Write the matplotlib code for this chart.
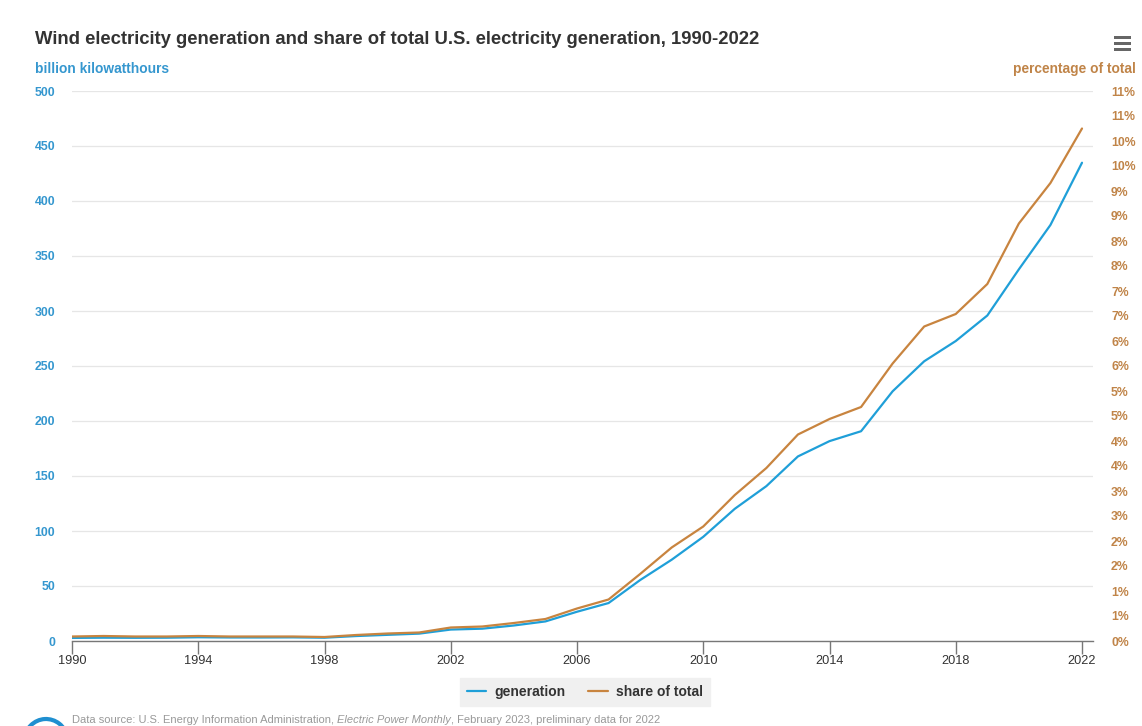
import math
import matplotlib
matplotlib.use("Agg")
import matplotlib.pyplot as plt
from matplotlib.patches import Rectangle, Arc
from matplotlib.ticker import FixedLocator, FuncFormatter

# ---- data ----
years = list(range(1990, 2023))
generation = [2.8, 3.0, 2.9, 3.0, 3.4, 3.2, 3.2, 3.3, 3.0, 4.5, 5.6, 6.7, 10.4, 11.2,
              14.1, 17.8, 26.6, 34.5, 55.4, 73.9, 94.7, 120.2, 140.8, 167.8, 181.7,
              190.7, 227.0, 254.3, 272.7, 295.9, 337.9, 378.2, 434.8]
share = [0.09, 0.10, 0.09, 0.09, 0.10, 0.09, 0.09, 0.09, 0.08, 0.12, 0.15, 0.17, 0.27,
         0.29, 0.36, 0.44, 0.65, 0.83, 1.34, 1.87, 2.29, 2.92, 3.46, 4.13, 4.44,
         4.68, 5.55, 6.29, 6.54, 7.14, 8.35, 9.16, 10.25]
x_ticks = list(range(1990, 2023, 4))
left_ticks = list(range(0, 501, 50))
right_ticks = [i * 0.5 for i in range(0, 23)]

title = "Wind electricity generation and share of total U.S. electricity generation, 1990-2022"
left_label = "billion kilowatthours"
right_label = "percentage of total"
series_names = ["generation", "share of total"]
source_parts = ["Data source: U.S. Energy Information Administration, ",
                "Electric Power Monthly",
                ", February 2023, preliminary data for 2022"]

# ---- style ----
W, H = 1142, 726
BLUE = "#1f9fd8"
ORANGE = "#c8843f"
BLUE_TXT = "#3597cf"
ORANGE_TXT = "#c08448"
FONT = "Liberation Sans"
plt.rcParams["font.family"] = [FONT, "DejaVu Sans"]

fig = plt.figure(figsize=(W / 100, H / 100), dpi=100)
fig.patch.set_facecolor("white")

def fx(px):
    return px / W

def fy(py):
    return 1 - py / H

L, R, T, B = 72, 1093, 91, 641
ax = fig.add_axes([fx(L), fy(B), fx(R - L), (B - T) / H])
ax2 = ax.twinx()

ax.plot(years, generation, color=BLUE, lw=1.6, solid_capstyle="round",
        solid_joinstyle="round", label=series_names[0], zorder=3)
ax2.plot(years, share, color=ORANGE, lw=1.6, solid_capstyle="round",
         solid_joinstyle="round", label=series_names[1], zorder=3)

ax.set_xlim(1990, 1990 + (R - L) / ((1082 - 72) / 32))
ax.set_ylim(0, 500)
ax2.set_ylim(0, 11)

ax.set_xticks(x_ticks)
ax.set_xticklabels([str(y) for y in x_ticks])
ax.yaxis.set_major_locator(FixedLocator(left_ticks))
ax2.yaxis.set_major_locator(FixedLocator(right_ticks))
ax2.yaxis.set_major_formatter(FuncFormatter(lambda v, p: f"{math.floor(v + 0.5)}%"))

ax.grid(axis="y", color="#e6e6e6", lw=0.9)
ax.grid(axis="x", visible=False)
ax.set_axisbelow(True)

for a in (ax, ax2):
    for s in ("top", "left", "right", "bottom"):
        a.spines[s].set_visible(False)
ax.spines["bottom"].set_visible(True)
ax.spines["bottom"].set_color("#777777")
ax.spines["bottom"].set_linewidth(1.0)

ax.tick_params(axis="x", direction="out", length=9, width=1, color="#777777",
               labelsize=9.2, labelcolor="#333333", pad=1)
ax.tick_params(axis="y", length=0, labelsize=8.8, labelcolor=BLUE_TXT, pad=12)
ax2.tick_params(axis="y", length=0, labelsize=8.8, labelcolor=ORANGE_TXT, pad=13)
for lab in ax.get_yticklabels():
    lab.set_fontweight("bold")
for lab in ax2.get_yticklabels():
    lab.set_fontweight("bold")

# title and axis titles
fig.text(fx(35), fy(40), title, fontsize=13.3, fontweight="bold", color="#333333",
         va="center", ha="left")
fig.text(fx(35), fy(69), left_label, fontsize=9.9, fontweight="bold", color=BLUE_TXT,
         va="center", ha="left")
fig.text(fx(1136), fy(69), right_label, fontsize=9.9, fontweight="bold",
         color=ORANGE_TXT, va="center", ha="right")

# hamburger menu icon
for yy in (37, 43, 49):
    fig.add_artist(Rectangle((fx(1114), fy(yy + 1.5)), fx(17), 3 / H,
                             transform=fig.transFigure, color="#666666", lw=0))

# legend
h1, l1 = ax.get_legend_handles_labels()
h2, l2 = ax2.get_legend_handles_labels()
leg = fig.legend(h1 + h2, l1 + l2, loc="center", bbox_to_anchor=(fx(585), fy(692)),
                 ncol=2, frameon=True, fancybox=False, fontsize=10,
                 handlelength=1.4, handletextpad=0.6, columnspacing=1.6,
                 borderpad=0.5, edgecolor="#f0f0f0", facecolor="#f0f0f0")
leg.get_frame().set_alpha(1)
for t in leg.get_texts():
    t.set_color("#333333")
    t.set_fontweight("bold")

# footer source
fig.canvas.draw()
renderer = fig.canvas.get_renderer()
xpos = 72
styles = ["normal", "italic", "normal"]
for part, st in zip(source_parts, styles):
    t = fig.text(fx(xpos), fy(715), part, fontsize=8.0, color="#999999", style=st,
                 va="top", ha="left")
    bb = t.get_window_extent(renderer=renderer)
    xpos += bb.width

# logo arc
fig.add_artist(Arc((fx(46), fy(742)), fx(44), 46 / H, theta1=20, theta2=170,
                   transform=fig.transFigure, color="#1f8fd0", lw=3))

fig.savefig("out.png", dpi=100, facecolor="white")
